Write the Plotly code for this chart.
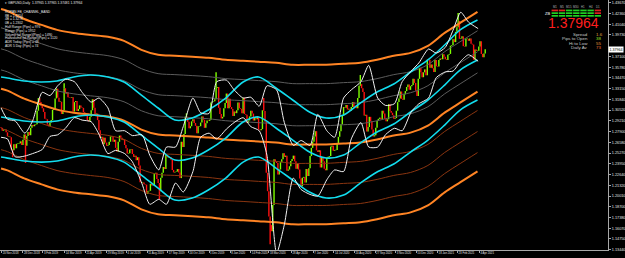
import datetime as dt
import plotly.graph_objects as go

# ---------------- data ----------------
START_SUNDAY = dt.date(2018, 11, 18)   # bars: Sun..Fri (6 per week, MT4 style)
SAMPLE_DAYS = [1, 3, 5]                 # Mon, Wed, Fri closes

first_open = 1.2845
closes = [
    1.2835, 1.2800, 1.2815, 1.2815, 1.2780, 1.2730, 1.2730, 1.2720, 1.2570,
    1.2560, 1.2635, 1.2585, 1.2640, 1.2640, 1.2645, 1.2670, 1.2625, 1.2690,
    1.2755, 1.2615, 1.2735, 1.2785, 1.2745, 1.2835, 1.2870, 1.2855, 1.2875,
    1.2880, 1.3045, 1.3200, 1.3150, 1.3110, 1.3075, 1.3030, 1.2945, 1.2940,
    1.2875, 1.2855, 1.2900, 1.2930, 1.3055, 1.3070, 1.3195, 1.3315, 1.3205,
    1.3155, 1.3155, 1.3005, 1.3050, 1.3320, 1.3255, 1.3270, 1.3210, 1.3205,
    1.3200, 1.3210, 1.3035, 1.3150, 1.3165, 1.3040, 1.3065, 1.3110, 1.3085,
    1.3080, 1.3025, 1.2995, 1.3005, 1.2930, 1.2915, 1.2970, 1.3050, 1.3185,
    1.3080, 1.3005, 1.3010, 1.2930, 1.2805, 1.2715, 1.2725, 1.2635, 1.2715,
    1.2655, 1.2615, 1.2625, 1.2665, 1.2730, 1.2735, 1.2665, 1.2690, 1.2590,
    1.2545, 1.2665, 1.2740, 1.2715, 1.2685, 1.2695, 1.2625, 1.2585, 1.2520,
    1.2525, 1.2570, 1.2575, 1.2515, 1.2480, 1.2495, 1.2440, 1.2475, 1.2375,
    1.2170, 1.2165, 1.2165, 1.2145, 1.2140, 1.2030, 1.2060, 1.2065, 1.2150,
    1.2130, 1.2135, 1.2275, 1.2285, 1.2210, 1.2160, 1.2060, 1.2225, 1.2285,
    1.2355, 1.2330, 1.2505, 1.2475, 1.2475, 1.2475, 1.2445, 1.2320, 1.2290,
    1.2295, 1.2300, 1.2330, 1.2290, 1.2220, 1.2665, 1.2600, 1.2760, 1.2970,
    1.2970, 1.2910, 1.2830, 1.2855, 1.2915, 1.2940, 1.2895, 1.2860, 1.2770,
    1.2855, 1.2855, 1.2900, 1.2975, 1.2935, 1.2835, 1.2890, 1.2925, 1.2920,
    1.2935, 1.3145, 1.3155, 1.3160, 1.3185, 1.3325, 1.3335, 1.3080, 1.3005,
    1.2950, 1.2970, 1.3075, 1.3140, 1.3255, 1.3075, 1.3190, 1.3090, 1.3065,
    1.2980, 1.3035, 1.3015, 1.3050, 1.3145, 1.3075, 1.3065, 1.3015, 1.3205,
    1.3005, 1.2995, 1.2895, 1.2925, 1.2975, 1.3045, 1.3010, 1.2925, 1.2960,
    1.2940, 1.2970, 1.2815, 1.2805, 1.2820, 1.3050, 1.3040, 1.2910, 1.2285,
    1.2060, 1.1750, 1.1645, 1.1570, 1.1890, 1.2450, 1.2420, 1.2405, 1.2265,
    1.2325, 1.2415, 1.2450, 1.2525, 1.2480, 1.2495, 1.2310, 1.2325, 1.2365,
    1.2430, 1.2455, 1.2495, 1.2425, 1.2335, 1.2405, 1.2325, 1.2215, 1.2120,
    1.2225, 1.2235, 1.2165, 1.2330, 1.2245, 1.2340, 1.2490, 1.2590, 1.2665,
    1.2730, 1.2795, 1.2560, 1.2540, 1.2560, 1.2350, 1.2475, 1.2425, 1.2335,
    1.2315, 1.2470, 1.2480, 1.2490, 1.2605, 1.2615, 1.2555, 1.2565, 1.2565,
    1.2650, 1.2725, 1.2795, 1.2880, 1.2985, 1.3090, 1.3080, 1.3115, 1.3060,
    1.3070, 1.3045, 1.3090, 1.3150, 1.3090, 1.3090, 1.3075, 1.3200, 1.3350,
    1.3370, 1.3320, 1.3275, 1.2985, 1.2995, 1.2790, 1.2845, 1.2970, 1.2915,
    1.2815, 1.2730, 1.2745, 1.2835, 1.2920, 1.2945, 1.2960, 1.2940, 1.3045,
    1.3010, 1.2945, 1.2915, 1.2940, 1.3125, 1.3040, 1.3020, 1.2990, 1.2945,
    1.2955, 1.3045, 1.3150, 1.3195, 1.3280, 1.3190, 1.3180, 1.3245, 1.3285,
    1.3335, 1.3365, 1.3300, 1.3345, 1.3360, 1.3435, 1.3385, 1.3290, 1.3225,
    1.3435, 1.3570, 1.3515, 1.3455, 1.3515, 1.3550, 1.3480, 1.3670, 1.3670,
    1.3570, 1.3610, 1.3565, 1.3520, 1.3665, 1.3590, 1.3585, 1.3665, 1.3685,
    1.3675, 1.3735, 1.3705, 1.3675, 1.3665, 1.3730, 1.3740, 1.3840, 1.3850,
    1.3920, 1.3885, 1.4010, 1.4065, 1.4145, 1.3925, 1.3930, 1.3955, 1.3835,
    1.3830, 1.3925, 1.3925, 1.3900, 1.3930, 1.3865, 1.3855, 1.3670, 1.3795,
    1.3775, 1.3780, 1.3830, 1.3895, 1.3740, 1.3700, 1.3745, 1.37964,
]

spike_dates = ["2018-12-11", "2019-01-03", "2019-03-13", "2019-09-03", "2019-10-21",
               "2019-12-13", "2020-03-09", "2020-03-20", "2020-09-01", "2021-02-24"]
spike_prices = [1.2477, 1.2405, 1.3380, 1.1958, 1.3013, 1.3515, 1.3200, 1.1409, 1.3482, 1.4241]

# long channel (orange) and medium channel (cyan), month-end anchors
month_ends = ["2018-11-19", "2018-11-30", "2018-12-31", "2019-01-31", "2019-02-28", "2019-03-31",
              "2019-04-30", "2019-05-31", "2019-06-30", "2019-07-31", "2019-08-31", "2019-09-30",
              "2019-10-31", "2019-11-30", "2019-12-31", "2020-01-31", "2020-02-29", "2020-03-31",
              "2020-04-30", "2020-05-31", "2020-06-30", "2020-07-31", "2020-08-31", "2020-09-30",
              "2020-10-31", "2020-11-30", "2020-12-31", "2021-01-31", "2021-02-28", "2021-03-31"]
orange_upper = [1.4290, 1.4266, 1.4168, 1.4095, 1.4034, 1.3997, 1.3973, 1.3949, 1.3900, 1.3790,
                1.3729, 1.3717, 1.3705, 1.3692, 1.3668, 1.3656, 1.3644, 1.3631, 1.3607, 1.3607,
                1.3607, 1.3619, 1.3631, 1.3668, 1.3717, 1.3753, 1.3839, 1.3997, 1.4119, 1.4254]
orange_mid = [1.3314, 1.3290, 1.3192, 1.3119, 1.3058, 1.3021, 1.2997, 1.2973, 1.2924, 1.2814,
              1.2753, 1.2741, 1.2729, 1.2716, 1.2692, 1.2680, 1.2668, 1.2655, 1.2631, 1.2631,
              1.2631, 1.2643, 1.2655, 1.2692, 1.2741, 1.2777, 1.2863, 1.3021, 1.3143, 1.3278]
orange_lower = [1.2338, 1.2314, 1.2216, 1.2143, 1.2082, 1.2045, 1.2021, 1.1997, 1.1948, 1.1838,
                1.1777, 1.1765, 1.1753, 1.1740, 1.1716, 1.1704, 1.1692, 1.1679, 1.1655, 1.1655,
                1.1655, 1.1667, 1.1679, 1.1716, 1.1765, 1.1801, 1.1887, 1.2045, 1.2167, 1.2302]
cyan_upper = [1.3458, 1.3445, 1.3409, 1.3396, 1.3409, 1.3458, 1.3482, 1.3458, 1.3396, 1.3237,
              1.3078, 1.2931, 1.2956, 1.3054, 1.3200, 1.3396, 1.3458, 1.3323, 1.3176, 1.3029,
              1.2956, 1.2992, 1.3139, 1.3274, 1.3372, 1.3519, 1.3666, 1.3849, 1.4033, 1.4155]
cyan_mid = [1.2968, 1.2955, 1.2919, 1.2906, 1.2919, 1.2968, 1.2992, 1.2968, 1.2906, 1.2747,
            1.2588, 1.2441, 1.2466, 1.2564, 1.2710, 1.2906, 1.2968, 1.2833, 1.2686, 1.2539,
            1.2466, 1.2502, 1.2649, 1.2784, 1.2882, 1.3029, 1.3176, 1.3359, 1.3543, 1.3665]
cyan_lower = [1.2478, 1.2465, 1.2429, 1.2416, 1.2429, 1.2478, 1.2502, 1.2478, 1.2416, 1.2257,
              1.2098, 1.1951, 1.1976, 1.2074, 1.2220, 1.2416, 1.2478, 1.2343, 1.2196, 1.2049,
              1.1976, 1.2012, 1.2159, 1.2294, 1.2392, 1.2539, 1.2686, 1.2869, 1.3053, 1.3175]
level_fractions = [0.236, 0.5, 0.764]

# short envelope (white), half-month anchors
bb_dates = ["2018-11-19", "2018-12-01", "2018-12-15", "2019-01-01", "2019-01-15", "2019-02-01",
            "2019-02-15", "2019-03-01", "2019-03-15", "2019-04-01", "2019-04-15", "2019-05-01",
            "2019-05-15", "2019-06-01", "2019-06-15", "2019-07-01", "2019-07-15", "2019-08-01",
            "2019-08-15", "2019-09-01", "2019-09-15", "2019-10-01", "2019-10-15", "2019-11-01",
            "2019-11-15", "2019-12-01", "2019-12-15", "2020-01-01", "2020-01-15", "2020-02-01",
            "2020-02-15", "2020-03-01", "2020-03-15", "2020-04-01", "2020-04-15", "2020-05-01",
            "2020-05-15", "2020-06-01", "2020-06-15", "2020-07-01", "2020-07-15", "2020-08-01",
            "2020-08-15", "2020-09-01", "2020-09-15", "2020-10-01", "2020-10-15", "2020-11-01",
            "2020-11-15", "2020-12-01", "2020-12-15", "2021-01-01", "2021-01-15", "2021-02-01",
            "2021-02-15", "2021-03-01", "2021-03-15", "2021-04-01"]
bb_upper = [1.308, 1.294, 1.292, 1.277, 1.292, 1.327, 1.323, 1.335, 1.343, 1.340, 1.327, 1.315,
            1.320, 1.308, 1.280, 1.280, 1.274, 1.275, 1.250, 1.232, 1.260, 1.260, 1.285, 1.320,
            1.302, 1.301, 1.340, 1.342, 1.330, 1.320, 1.321, 1.310, 1.335, 1.330, 1.290, 1.262,
            1.268, 1.262, 1.300, 1.280, 1.272, 1.320, 1.330, 1.340, 1.360, 1.320, 1.311, 1.313,
            1.340, 1.353, 1.363, 1.380, 1.375, 1.382, 1.403, 1.425, 1.413, 1.405]
bb_lower = [1.272, 1.270, 1.248, 1.249, 1.252, 1.257, 1.273, 1.275, 1.283, 1.296, 1.293, 1.291,
            1.276, 1.252, 1.256, 1.252, 1.242, 1.215, 1.190, 1.196, 1.190, 1.216, 1.205, 1.230,
            1.272, 1.277, 1.270, 1.282, 1.290, 1.296, 1.285, 1.280, 1.250, 1.130, 1.165, 1.222,
            1.208, 1.202, 1.200, 1.220, 1.232, 1.230, 1.270, 1.290, 1.260, 1.260, 1.275, 1.283,
            1.280, 1.303, 1.313, 1.320, 1.345, 1.352, 1.353, 1.365, 1.373, 1.365]

date_label_dates = ["2018-11-20", "2018-12-28", "2019-02-03", "2019-03-14", "2019-04-21", "2019-05-29",
                    "2019-07-04", "2019-08-11", "2019-09-17", "2019-10-24", "2019-12-01", "2020-01-08",
                    "2020-02-14", "2020-03-18", "2020-04-28", "2020-06-07", "2020-07-14", "2020-08-20",
                    "2020-09-27", "2020-11-03", "2020-12-10", "2021-01-18", "2021-02-23", "2021-04-04"]
date_label_text = ["20 Nov 2018", "28 Dec 2018", "3 Feb 2019", "14 Mar 2019", "21 Apr 2019", "29 May 2019",
                   "4 Jul 2019", "11 Aug 2019", "17 Sep 2019", "24 Oct 2019", "1 Dec 2019", "8 Jan 2020",
                   "14 Feb 2020", "18 Mar 2020", "28 Apr 2020", "7 Jun 2020", "14 Jul 2020", "20 Aug 2020",
                   "27 Sep 2020", "3 Nov 2020", "10 Dec 2020", "18 Jan 2021", "23 Feb 2021", "4 Apr 2021"]
price_ticks = [1.4367, 1.4236, 1.4104, 1.3973, 1.3710, 1.3578, 1.3447, 1.3315, 1.3184, 1.3052,
               1.2921, 1.2790, 1.2658, 1.2527, 1.2395, 1.2264, 1.2132, 1.2001, 1.1870, 1.1738,
               1.1607, 1.1475, 1.1344]
current_price = 1.37964

info_lines = ["\u25be GBPUSD,Daily  1.37965 1.37965 1.37481 1.37964",
              "ROPAN FB_CHANNEL_BAND",
              "8B = 1.4254", "4B = 1.3278", "0B = 1.2302",
              "Half Range (Pips) = 976", "Range (Pips) = 1952",
              "Volume (of Range)(Pips) = 1490", "Halfvolume (of Range)(Pips) = 1120",
              "ADR Today (Pips) = 48", "ADR 5 Day (Pips) = 74"]
panel_labels = ["Spread", "Pips to Open", "Hi to Low", "Daily Av"]
panel_values = ["1.6", "38", "55", "73"]
panel_value_colors = ["#E0A040", "#9BE020", "#E89838", "#F07030"]
tf_labels = ["M1", "M5", "M15", "M30", "H1", "H4", "D1"]
tf_rows = [["r", "r", "g", "g", "g", "g", "r"],
           ["g", "g", "g", "g", "g", "g", "r"],
           ["g", "g", "g", "g", "g", "g", "g"]]

# ---------------- helpers ----------------
def bar_index(d):
    if isinstance(d, str):
        d = dt.date.fromisoformat(d)
    w, dow = divmod((d - START_SUNDAY).days, 7)
    return w * 6 + min(dow, 5) - 2

W, H = 625, 258
PLOT_W, PLOT_H = 610, 250
X_RANGE = [-2.6, 941.7]
Y_RANGE = [1.1340, 1.4400]

def px(x):
    return x / PLOT_W

def py(y):
    return 1 - y / PLOT_H

UP_COLOR = "#7FFF00"
DN_COLOR = "#FF1010"

fig = go.Figure()

# ---------------- candles ----------------
up_x, up_y, dn_x, dn_y = [], [], [], []
sample_x, sample_body, sample_up = [], [], []
prev = first_open
for i, c in enumerate(closes):
    d = START_SUNDAY + dt.timedelta(days=7 * (i // 3) + SAMPLE_DAYS[i % 3])
    xi = bar_index(d)
    lo, hi = min(prev, c), max(prev, c)
    if hi - lo < 0.0006:
        m = (hi + lo) / 2
        lo, hi = m - 0.0003, m + 0.0003
    is_up = c >= prev
    if is_up:
        up_x += [xi, xi, None]; up_y += [lo, hi, None]
    else:
        dn_x += [xi, xi, None]; dn_y += [lo, hi, None]
    sample_x.append(xi); sample_body.append((lo, hi)); sample_up.append(is_up)
    prev = c

for sd, sp in zip(spike_dates, spike_prices):
    t = bar_index(sd)
    j = min(range(len(sample_x)), key=lambda k: abs(sample_x[k] - t))
    lo, hi = sample_body[j]
    edge = hi if sp > hi else lo
    if sample_up[j]:
        up_x += [sample_x[j], sample_x[j], None]; up_y += [edge, sp, None]
    else:
        dn_x += [sample_x[j], sample_x[j], None]; dn_y += [edge, sp, None]

fig.add_trace(go.Scatter(x=up_x, y=up_y, mode="lines", line=dict(color=UP_COLOR, width=1.4),
                         hoverinfo="skip", showlegend=False))
fig.add_trace(go.Scatter(x=dn_x, y=dn_y, mode="lines", line=dict(color=DN_COLOR, width=1.4),
                         hoverinfo="skip", showlegend=False))

# ---------------- bands ----------------
def band(dates, vals, color, width, smooth=0.9):
    fig.add_trace(go.Scatter(x=[bar_index(d) for d in dates], y=vals, mode="lines",
                             line=dict(color=color, width=width, shape="spline", smoothing=smooth),
                             hoverinfo="skip", showlegend=False))

for f in level_fractions:
    band(month_ends, [m + f * (u - m) for m, u in zip(orange_mid, orange_upper)], "#5C5C5C", 1)
    band(month_ends, [m + f * (l - m) for m, l in zip(orange_mid, orange_lower)], "#8A3510", 1)

for arr in (orange_upper, orange_mid, orange_lower):
    band(month_ends, arr, "#FF8424", 2)
for arr in (cyan_upper, cyan_mid, cyan_lower):
    band(month_ends, arr, "#12DDEE", 1.6)
for arr in (bb_upper, bb_lower):
    band(bb_dates, arr, "#F2F2F2", 1, smooth=0.6)

# ---------------- annotations ----------------
ann = []
FONT = "Liberation Sans, Arial, sans-serif"
info_y = [3, 11.7, 15.5, 19.3, 23.1, 26.9, 30.7, 34.5, 38.3, 42.1, 45.9]
for t, yy in zip(info_lines, info_y):
    ann.append(dict(x=px(3), y=py(yy), xref="paper", yref="paper", text=t, showarrow=False,
                    xanchor="left", yanchor="middle", font=dict(size=3.3, color="#E6E6E6", family=FONT)))

col_x0, col_w = 553, 7.2
for k, lab in enumerate(tf_labels):
    ann.append(dict(x=px(col_x0 + col_w * (k + 0.5)), y=py(6.5), xref="paper", yref="paper", text=lab,
                    showarrow=False, xanchor="center", yanchor="middle",
                    font=dict(size=2.8, color="#B0B0B0", family=FONT)))
shapes = []
for r, row in enumerate(tf_rows):
    for k, cc in enumerate(row):
        x0 = col_x0 + col_w * k + 0.4
        y0 = 9.6 + r * 2.7
        shapes.append(dict(type="rect", xref="paper", yref="paper", x0=px(x0), x1=px(x0 + col_w - 0.8),
                           y0=py(y0), y1=py(y0 + 1.7), line=dict(width=0),
                           fillcolor="#E02020" if cc == "r" else "#20D020"))
ann.append(dict(x=px(549), y=py(13), xref="paper", yref="paper", text="ZB", showarrow=False,
                xanchor="center", yanchor="middle", font=dict(size=4, color="#FFFFFF", family=FONT)))

ann.append(dict(x=px(603), y=py(23), xref="paper", yref="paper", text="1.37964", showarrow=False,
                xanchor="right", yanchor="middle", font=dict(size=14, color="#FF1E1E", family=FONT)))
panel_y = [34.3, 38.7, 43.1, 47.5]
for lab, val, vc, yy in zip(panel_labels, panel_values, panel_value_colors, panel_y):
    ann.append(dict(x=px(592), y=py(yy), xref="paper", yref="paper", text=lab, showarrow=False,
                    xanchor="right", yanchor="middle", font=dict(size=4.4, color="#C8C8C8", family=FONT)))
    ann.append(dict(x=px(595.5), y=py(yy), xref="paper", yref="paper", text=val, showarrow=False,
                    xanchor="left", yanchor="middle", font=dict(size=4.4, color=vc, family=FONT)))

ann.append(dict(x=1.0, y=current_price, xref="paper", yref="y", text="%.5f" % current_price,
                showarrow=False, xanchor="left", yanchor="middle", bgcolor="#FFFFFF", borderpad=0.5,
                font=dict(size=3.6, color="#000000", family=FONT)))

fig.update_layout(
    width=W, height=H,
    margin=dict(l=0, r=W - PLOT_W, t=0, b=H - PLOT_H),
    paper_bgcolor="#000000", plot_bgcolor="#000000",
    showlegend=False, annotations=ann, shapes=shapes,
    xaxis=dict(range=X_RANGE, showgrid=False, zeroline=False, showline=True, linecolor="#A8A8A8",
               linewidth=1, ticks="outside", ticklen=2, tickcolor="#A8A8A8",
               tickvals=[bar_index(d) for d in date_label_dates], ticktext=date_label_text,
               tickangle=0, ticklabelposition="outside right",
               tickfont=dict(size=2.8, color="#E0E0E0", family=FONT), fixedrange=True),
    yaxis=dict(range=Y_RANGE, side="right", showgrid=False, zeroline=False, showline=True,
               linecolor="#A8A8A8", linewidth=1, ticks="outside", ticklen=2, tickcolor="#A8A8A8",
               tickvals=price_ticks, ticktext=["%.5f" % v for v in price_ticks],
               tickfont=dict(size=3.8, color="#E0E0E0", family=FONT), fixedrange=True),
)

fig.write_html("out.html")
